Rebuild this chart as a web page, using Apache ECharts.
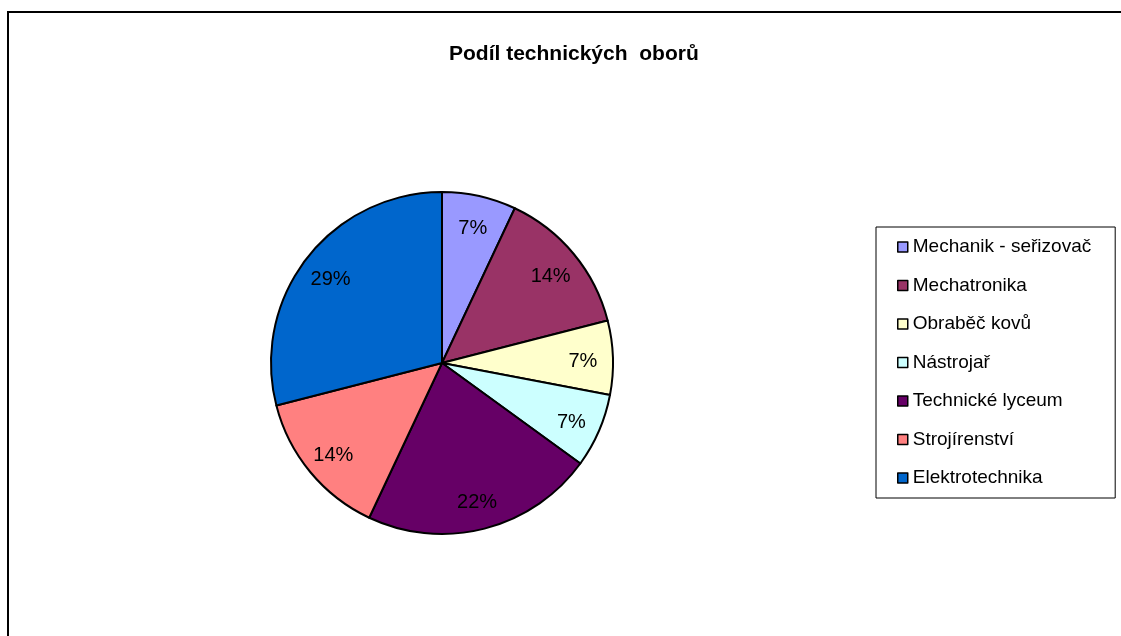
<!DOCTYPE html>
<html>
<head>
<meta charset="utf-8">
<script src="https://cdn.jsdelivr.net/npm/echarts@6/dist/echarts.min.js"></script>
<style>
  html, body { margin: 0; padding: 0; background: #fff; }
  #chart { width: 1121px; height: 636px; }
</style>
</head>
<body>
<div id="chart"></div>
<script>
// obory a jejich podíl (v %)
var categories = ['Mechanik - seřizovač', 'Mechatronika', 'Obraběč kovů', 'Nástrojař', 'Technické lyceum', 'Strojírenství', 'Elektrotechnika']
var shares = [7, 14, 7, 7, 22, 14, 29]
var colors = ['#9999ff', '#993366', '#ffffcc', '#ccffff', '#660066', '#ff8080', '#0066cc']

var FONT = '"Liberation Sans", Arial, sans-serif'

var pieData = categories.map(function(name, i) {
  return { name: name, value: shares[i], itemStyle: { color: colors[i] } }
})
// druhá vrstva jen kvůli umístění popisků blíž k okraji
var labelData = categories.map(function(name, i) {
  return { name: name, value: shares[i] }
})

var chart = echarts.init(document.getElementById('chart'))
chart.setOption({
  backgroundColor: '#fff',
  animation: false,
  title: {
    text: 'Podíl technických  oborů',
    left: 444,
    top: 39,
    textStyle: { fontFamily: FONT, fontSize: 21, fontWeight: 'bold', color: '#000' }
  },
  graphic: [{
    type: 'rect',
    shape: { x: 8, y: 12, width: 1300, height: 800 },
    style: { fill: 'none', stroke: '#000', lineWidth: 2 },
    z: 100
  }],
  legend: {
    orient: 'vertical',
    left: 876,
    top: 227,
    data: categories,
    icon: 'rect',
    itemWidth: 10,
    itemHeight: 10,
    itemGap: 18.5,
    padding: [10, 24, 10, 21],
    borderColor: '#000',
    borderWidth: 1,
    backgroundColor: '#fff',
    itemStyle: { borderColor: '#000', borderWidth: 1.5 },
    textStyle: { fontFamily: FONT, fontSize: 19, color: '#000', lineHeight: 20 }
  },
  series: [
    {
      name: 'obory',
      type: 'pie',
      center: [442, 363],
      radius: 171,
      startAngle: 90,
      clockwise: true,
      label: { show: false },
      labelLine: { show: false },
      itemStyle: { borderColor: '#000', borderWidth: 2 },
      emphasis: { disabled: true },
      data: pieData
    },
    {
      name: 'popisky',
      type: 'pie',
      center: [442, 363],
      radius: [106, 170],
      startAngle: 90,
      clockwise: true,
      silent: true,
      legendHoverLink: false,
      itemStyle: { color: 'rgba(0,0,0,0)', borderWidth: 0 },
      label: {
        show: true,
        position: 'inside',
        fontFamily: FONT,
        fontSize: 20,
        color: '#000',
        offset: [0, 3],
        formatter: function(p) { return Math.round(p.percent) + '%' }
      },
      labelLine: { show: false },
      emphasis: { disabled: true },
      data: labelData
    }
  ]
})
</script>
</body>
</html>
